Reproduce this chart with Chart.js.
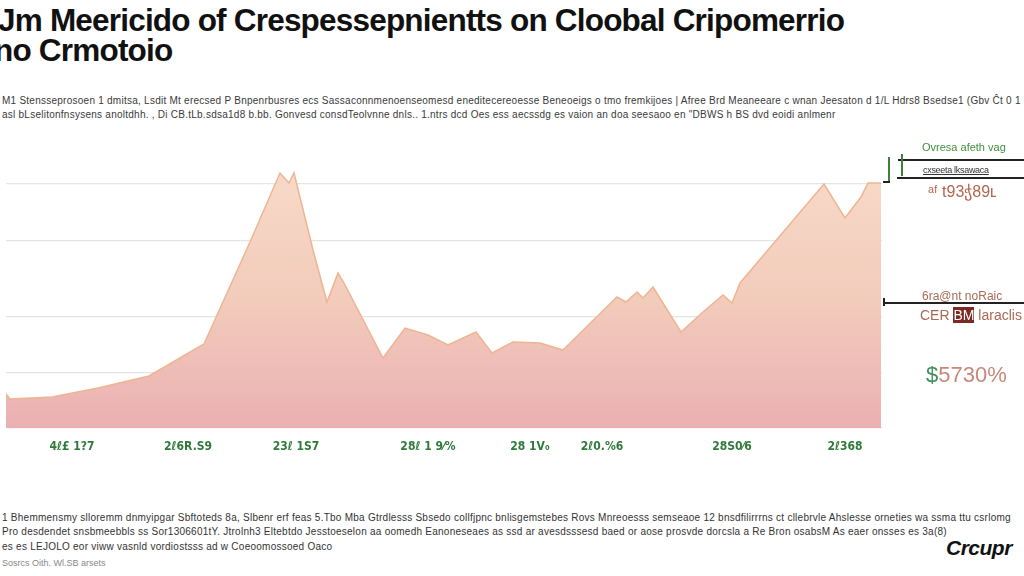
<!DOCTYPE html>
<html>
<head>
<meta charset="utf-8">
<script src="https://cdn.jsdelivr.net/npm/chart.js@4.4.0/dist/chart.umd.min.js"></script>
<style>
  body { margin: 0; width: 1024px; height: 576px; background: #fff; overflow: hidden; position: relative; font-family: "Liberation Sans", Arial, sans-serif; }
  .abs { position: absolute; white-space: nowrap; }
  .title { font-size: 31.5px; font-weight: bold; line-height: 34px; letter-spacing: -0.8px; color: #111; }
  .sub { font-size: 10px; color: #3a3a3a; letter-spacing: 0.25px; }
  .foot { font-size: 10px; color: #333; letter-spacing: 0.25px; }
  .hl { position: absolute; background: #222; height: 1.5px; }
  #chartBox { position: absolute; left: 0; top: 150px; width: 890px; height: 308px; }
</style>
</head>
<body>
<div class="abs title" style="left:-2px;top:3px;">Jm Meericido of Crespessepnientts on Cloobal Cripomerrio</div>
<div class="abs title" style="left:-6px;top:33px;">no Crmotoio</div>
<div class="abs sub" style="left:2px;top:95px;">M1 Stensseprosoen 1 dmitsa, Lsdit Mt erecsed P Bnpenrbusres ecs Sassaconnmenoenseomesd eneditecereoesse Beneoeigs o tmo fremkijoes | Afree Brd Meaneeare c wnan Jeesaton d 1/L Hdrs8 Bsedse1 (Gbv Ĉt 0 1 dk</div>
<div class="abs sub" style="left:2px;top:109px;">asl bLselitonfnsysens anoltdhh. , Di CB.tLb.sdsa1d8 b.bb. Gonvesd consdTeolvnne dnls.. 1.ntrs dcd Oes ess aecssdg es vaion an doa seesaoo en "DBWS h BS dvd eoidi anlmenr</div>

<div id="chartBox"><canvas id="chart"></canvas></div>

<div class="hl" style="left:898px;top:159px;width:126px;"></div>
<div class="hl" style="left:897px;top:177px;width:127px;"></div>
<div class="abs" style="left:888px;top:157px;width:2px;height:26px;background:#3d7f3d;"></div>
<div class="abs" style="left:901px;top:154px;width:1.5px;height:22px;background:#3d7f3d;"></div>
<div class="abs" style="left:883px;top:181px;width:7px;height:2px;background:#222;"></div>
<div class="hl" style="left:884px;top:302px;width:140px;"></div>
<div class="abs" style="left:883px;top:298px;width:2px;height:8px;background:#222;"></div>

<div class="abs" style="left:922px;top:141px;font-size:11px;color:#3f8f3f;">Ovresa afeth vag</div>
<div class="abs" style="left:923px;top:165px;font-size:9px;color:#333;letter-spacing:-0.3px;text-decoration:underline;">cxseeta lksawaca</div>
<div class="abs" style="left:928px;top:182px;font-size:16px;color:#b5654e;">ᵃᶠ t93ჭ89ʟ</div>
<div class="abs" style="left:922px;top:289px;font-size:12px;color:#a86b55;">6ra@nt noRaic</div>
<div class="abs" style="left:920px;top:307px;font-size:14px;color:#a86b55;">CER <span style="background:#7a2a22;color:#fff;">BM</span> laraclis</div>
<div class="abs" style="left:926px;top:362px;font-size:22px;color:#c9877a;"><span style="color:#3f8f5a;">$</span>5730%</div>

<div class="abs foot" style="left:2px;top:512px;">1 Bhemmensmy slloremm dnmyipgar Sbftoteds 8a, Slbenr erf feas 5.Tbo Mba Gtrdlesss Sbsedo collfjpnc bnlisgemstebes Rovs Mnreoesss semseaoe 12 bnsdfilirrrns ct cllebrvle Ahslesse orneties wa ssma ttu csrlomg</div>
<div class="abs foot" style="left:2px;top:526px;">Pro desdendet snsbmeebbls ss Sor1306601tY. Jtrolnh3 Eltebtdo Jesstoeselon aa oomedh Eanoneseaes as ssd ar avesdsssesd baed or aose prosvde dorcsla a Re Bron osabsM As eaer onsses es 3a(8)</div>
<div class="abs foot" style="left:2px;top:541px;">es es LEJOLO eor viww vasnld vordiostsss ad w Coeoomossoed Oaco</div>
<div class="abs foot" style="left:2px;top:558px;color:#888;font-size:9px;letter-spacing:0;">Sosrcs Oith. Wl.SB arsets</div>
<div class="abs" style="left:946px;top:536px;font-size:21px;font-weight:bold;font-style:italic;color:#111;letter-spacing:-0.5px;">Crcupr</div>

<script>
// x positions of the line's vertices (horizontal units of the time axis)
const pointX = [6, 10, 52, 98, 149, 204, 250, 280, 289, 294, 313, 327, 338, 344, 383, 405, 428, 448, 476, 492, 513, 540, 563, 617, 626, 637, 643, 653, 681, 703, 723, 732, 740, 824, 845, 861, 868, 881];
// series values
const pointValues = [34, 29, 31, 40, 52, 84, 186, 255, 245, 255, 178, 126, 155, 145, 70, 100, 93, 83, 96, 75, 86, 85, 78, 131, 126, 136, 130, 141, 96, 116, 133, 125, 145, 244, 210, 231, 245, 245];
// x-axis tick positions and labels
const xTickPos = [72, 188, 296, 428, 530, 602, 732, 845];
const xTickLabels = ["4ℓ£ 1?7", "2ℓ6R.S9", "23ℓ 1S7", "28ℓ 1 9⁄%", "28 1V₀", "2ℓ0.%6", "28S0⁄6", "2ℓ368"];
// horizontal grid lines
const yGridValues = [0, 55, 111, 187, 244];

const points = pointX.map((x, i) => ({ x: x, y: pointValues[i] }));

const ctx = document.getElementById("chart").getContext("2d");

new Chart(ctx, {
  type: "line",
  data: {
    datasets: [{
      data: points,
      borderColor: "#eeb592",
      borderWidth: 1.5,
      pointRadius: 0,
      tension: 0,
      fill: "start",
      backgroundColor: (c) => {
        const area = c.chart.chartArea;
        if (!area) return "#f3cbbb";
        const g = c.chart.ctx.createLinearGradient(0, area.top, 0, area.bottom);
        g.addColorStop(0, "#f8dbc9");
        g.addColorStop(0.55, "#f2cbbb");
        g.addColorStop(1, "#ebb0b3");
        return g;
      }
    }]
  },
  options: {
    responsive: true,
    maintainAspectRatio: false,
    animation: false,
    layout: { padding: { left: 6, right: 8, top: 0, bottom: 0 } },
    plugins: { legend: { display: false }, tooltip: { enabled: false } },
    scales: {
      x: {
        type: "linear",
        min: 6,
        max: 882,
        grid: { display: false },
        border: { display: false },
        afterBuildTicks: (scale) => { scale.ticks = xTickPos.map(v => ({ value: v })); },
        afterFit: (scale) => { scale.height = 30; },
        ticks: {
          autoSkip: false,
          maxRotation: 0,
          padding: 4,
          color: "#2f7a3a",
          font: { size: 12, weight: "bold", family: "DejaVu Sans Condensed, DejaVu Sans" },
          callback: (v) => xTickLabels[xTickPos.indexOf(v)]
        }
      },
      y: {
        min: 0,
        max: 278,
        afterBuildTicks: (scale) => { scale.ticks = yGridValues.map(v => ({ value: v })); },
        afterFit: (scale) => { scale.width = 0; },
        ticks: { display: false },
        grid: { color: "#e4e4e4", lineWidth: 1.2, drawTicks: false },
        border: { display: false }
      }
    }
  }
});
</script>
</body>
</html>
